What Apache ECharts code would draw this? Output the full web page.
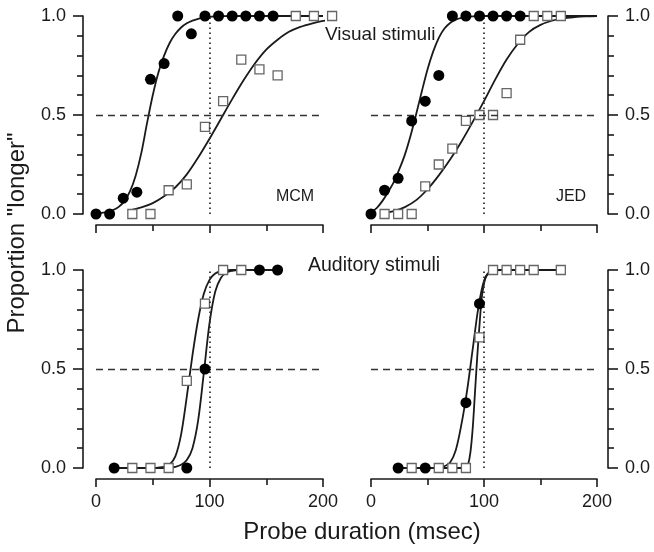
<!DOCTYPE html>
<html>
<head>
<meta charset="utf-8">
<script src="https://cdn.jsdelivr.net/npm/echarts@6/dist/echarts.min.js"></script>
<style>
html,body{margin:0;padding:0;background:#fff;}
#chart{width:654px;height:552px;}
</style>
</head>
<body>
<div id="chart"></div>
<script>
// ---------- DATA ----------
const xTicks = [0, 100, 200];
const yTicks = [0.0, 0.5, 1.0];
const refY = 0.5;   // dashed criterion line
const refX = 100;   // dotted standard duration

// Panel A: MCM, visual stimuli
const mcmVisCircleX = [0, 12, 24, 36, 48, 60, 72, 84, 96, 108, 120, 132, 144, 156];
const mcmVisCircleY = [0, 0, 0.08, 0.11, 0.68, 0.76, 1, 0.91, 1, 1, 1, 1, 1, 1];
const mcmVisSquareX = [32, 48, 64, 80, 96, 112, 128, 144, 160, 176, 192, 208];
const mcmVisSquareY = [0, 0, 0.12, 0.15, 0.44, 0.57, 0.78, 0.73, 0.70, 1, 1, 1];
const mcmVisCircleFitX = [0, 5, 10, 15, 20, 25, 30, 35, 40, 45, 50, 55, 60, 65, 70, 75, 80, 85, 90, 95, 100, 110, 120, 130, 140, 150, 160, 170, 180, 190, 200];
const mcmVisCircleFitY = [0.003, 0.006, 0.011, 0.02, 0.036, 0.065, 0.115, 0.195, 0.31, 0.46, 0.6, 0.715, 0.8, 0.865, 0.91, 0.942, 0.963, 0.977, 0.986, 0.992, 0.996, 0.999, 1, 1, 1, 1, 1, 1, 1, 1, 1];
const mcmVisSquareFitX = [30, 40, 50, 60, 70, 80, 90, 100, 110, 120, 130, 140, 150, 160, 170, 180, 190, 200, 208];
const mcmVisSquareFitY = [0.018, 0.033, 0.055, 0.09, 0.135, 0.2, 0.285, 0.38, 0.48, 0.58, 0.675, 0.76, 0.83, 0.88, 0.92, 0.945, 0.962, 0.975, 0.982];

// Panel B: JED, visual stimuli
const jedVisCircleX = [0, 12, 24, 36, 48, 60, 72, 84, 96, 108, 120, 132];
const jedVisCircleY = [0, 0.12, 0.18, 0.47, 0.57, 0.70, 1, 1, 1, 1, 1, 1];
const jedVisSquareX = [12, 24, 36, 48, 60, 72, 84, 96, 108, 120, 132, 144, 156, 168];
const jedVisSquareY = [0, 0, 0, 0.14, 0.25, 0.33, 0.47, 0.50, 0.50, 0.61, 0.88, 1, 1, 1];
const jedVisCircleFitX = [0, 5, 10, 15, 20, 25, 30, 35, 40, 45, 50, 55, 60, 65, 70, 75, 80, 85, 90, 100, 110, 120, 130, 140, 150, 160, 170, 180, 190, 200];
const jedVisCircleFitY = [0.01, 0.03, 0.065, 0.11, 0.16, 0.225, 0.30, 0.395, 0.505, 0.62, 0.73, 0.82, 0.89, 0.937, 0.965, 0.981, 0.99, 0.995, 0.998, 1, 1, 1, 1, 1, 1, 1, 1, 1, 1, 1];
const jedVisSquareFitX = [10, 20, 30, 40, 50, 60, 70, 80, 90, 100, 110, 120, 130, 140, 150, 160, 170, 180, 190, 200];
const jedVisSquareFitY = [0.004, 0.015, 0.035, 0.07, 0.125, 0.195, 0.275, 0.365, 0.465, 0.57, 0.68, 0.78, 0.86, 0.92, 0.955, 0.976, 0.988, 0.994, 0.998, 1];

// Panel C: MCM, auditory stimuli
const mcmAudCircleX = [16, 80, 96, 144, 160];
const mcmAudCircleY = [0, 0, 0.5, 1, 1];
const mcmAudSquareX = [32, 48, 64, 80, 96, 112, 128];
const mcmAudSquareY = [0, 0, 0, 0.44, 0.83, 1, 1];
const mcmAudCircleFitX = [16, 60, 65, 70, 75, 80, 85, 90, 95, 100, 105, 110, 115, 120, 125, 160];
const mcmAudCircleFitY = [0, 0, 0.002, 0.006, 0.016, 0.04, 0.1, 0.24, 0.48, 0.73, 0.89, 0.96, 0.987, 0.996, 1, 1];
const mcmAudSquareFitX = [16, 50, 55, 60, 65, 70, 75, 80, 85, 90, 95, 100, 105, 110, 115, 120, 160];
const mcmAudSquareFitY = [0, 0, 0.002, 0.006, 0.018, 0.06, 0.17, 0.36, 0.57, 0.75, 0.88, 0.95, 0.982, 0.994, 0.999, 1, 1];

// Panel D: JED, auditory stimuli
const jedAudCircleX = [24, 48, 84, 96];
const jedAudCircleY = [0, 0, 0.33, 0.83];
const jedAudSquareX = [36, 60, 72, 84, 96, 108, 120, 132, 144, 168];
const jedAudSquareY = [0, 0, 0, 0, 0.66, 1, 1, 1, 1, 1];
const jedAudCircleFitX = [24, 50, 55, 60, 65, 70, 75, 80, 85, 90, 95, 100, 105, 110, 115, 168];
const jedAudCircleFitY = [0, 0, 0.001, 0.003, 0.009, 0.028, 0.09, 0.22, 0.39, 0.6, 0.81, 0.945, 0.99, 0.998, 1, 1];
const jedAudSquareFitX = [24, 80, 82, 84, 86, 88, 90, 92, 94, 96, 98, 100, 102, 104, 106, 108, 110, 168];
const jedAudSquareFitY = [0, 0, 0.001, 0.004, 0.02, 0.08, 0.2, 0.38, 0.56, 0.72, 0.86, 0.93, 0.97, 0.985, 0.994, 0.998, 1, 1];

// ---------- CHART ----------
const FONT = "'Liberation Sans', Arial, sans-serif";
const INK = '#1a1a1a';
const zip = (xs, ys) => xs.map((x, i) => [x, ys[i]]);

const panels = [
  { circles: zip(mcmVisCircleX, mcmVisCircleY), squares: zip(mcmVisSquareX, mcmVisSquareY),
    cFit: zip(mcmVisCircleFitX, mcmVisCircleFitY), sFit: zip(mcmVisSquareFitX, mcmVisSquareFitY) },
  { circles: zip(jedVisCircleX, jedVisCircleY), squares: zip(jedVisSquareX, jedVisSquareY),
    cFit: zip(jedVisCircleFitX, jedVisCircleFitY), sFit: zip(jedVisSquareFitX, jedVisSquareFitY) },
  { circles: zip(mcmAudCircleX, mcmAudCircleY), squares: zip(mcmAudSquareX, mcmAudSquareY),
    cFit: zip(mcmAudCircleFitX, mcmAudCircleFitY), sFit: zip(mcmAudSquareFitX, mcmAudSquareFitY) },
  { circles: zip(jedAudCircleX, jedAudCircleY), squares: zip(jedAudSquareX, jedAudSquareY),
    cFit: zip(jedAudCircleFitX, jedAudCircleFitY), sFit: zip(jedAudSquareFitX, jedAudSquareFitY) }
];

const grids = [
  { left: 96, top: 16, width: 227, height: 198 },
  { left: 371, top: 16, width: 226, height: 198 },
  { left: 96, top: 270, width: 227, height: 198 },
  { left: 371, top: 270, width: 226, height: 198 }
];

const xAxes = grids.map((g, i) => ({
  type: 'value', gridIndex: i, min: xTicks[0], max: xTicks[xTicks.length - 1],
  interval: xTicks[1] - xTicks[0], offset: 11,
  axisLine: { show: true, onZero: false, lineStyle: { color: INK, width: 1.6 } },
  axisTick: { show: true, length: 8, lineStyle: { color: INK, width: 1.6 } },
  minorTick: { show: true, splitNumber: 2, length: 6, lineStyle: { color: INK, width: 1.6 } },
  splitLine: { show: false },
  axisLabel: { show: i >= 2, color: INK, fontFamily: FONT, fontSize: 18, margin: 14 }
}));

const yAxes = grids.map((g, i) => ({
  type: 'value', gridIndex: i, min: yTicks[0], max: yTicks[yTicks.length - 1],
  interval: yTicks[1] - yTicks[0], position: (i % 2 === 0) ? 'left' : 'right',
  offset: (i % 2 === 0) ? 13 : 11,
  axisLine: { show: true, onZero: false, lineStyle: { color: INK, width: 1.6 } },
  axisTick: { show: true, length: 10, lineStyle: { color: INK, width: 1.6 } },
  minorTick: { show: true, splitNumber: 5, length: 6, lineStyle: { color: INK, width: 1.6 } },
  splitLine: { show: false },
  axisLabel: { show: true, color: INK, fontFamily: FONT, fontSize: 18, margin: 17,
               formatter: v => v.toFixed(1) }
}));

const series = [];
panels.forEach((p, i) => {
  series.push({
    type: 'line', xAxisIndex: i, yAxisIndex: i, data: p.cFit, showSymbol: false, symbol: 'none',
    smooth: 0.3, clip: false, z: 3,
    lineStyle: { color: INK, width: 1.8 },
    markLine: {
      silent: true, symbol: 'none', label: { show: false }, animation: false,
      data: [
        { yAxis: refY, lineStyle: { type: [7, 5], color: '#333', width: 1.4 } },
        { xAxis: refX, lineStyle: { type: [1.6, 3.4], color: '#333', width: 1.8 } }
      ]
    }
  });
  series.push({
    type: 'line', xAxisIndex: i, yAxisIndex: i, data: p.sFit, showSymbol: false, symbol: 'none',
    smooth: 0.3, clip: false, z: 3,
    lineStyle: { color: INK, width: 1.8 }
  });
  series.push({
    type: 'scatter', xAxisIndex: i, yAxisIndex: i, data: p.squares, symbol: 'rect', symbolSize: 9,
    clip: false, z: 4,
    itemStyle: { color: '#fff', borderColor: '#666', borderWidth: 1.3, opacity: 1 }
  });
  series.push({
    type: 'scatter', xAxisIndex: i, yAxisIndex: i, data: p.circles, symbol: 'circle', symbolSize: 11,
    clip: false, z: 5,
    itemStyle: { color: '#000', opacity: 1 }
  });
});

const txt = (text, x, y, size, align, extra) => Object.assign({
  type: 'text', x: x, y: y, silent: true,
  style: { text: text, fill: INK, font: size + 'px ' + FONT, align: align, verticalAlign: 'middle' }
}, extra || {});

const option = {
  animation: false,
  backgroundColor: '#fff',
  grid: grids,
  xAxis: xAxes,
  yAxis: yAxes,
  series: series,
  graphic: [
    txt('Visual stimuli', 325, 35, 19, 'left'),
    txt('Auditory stimuli', 308, 266, 19.5, 'left'),
    txt('MCM', 295, 197, 16, 'center'),
    txt('JED', 571, 197, 16, 'center'),
    txt('Probe duration (msec)', 362, 532, 24, 'center'),
    txt('Proportion "longer"', 17, 233, 24, 'center', { rotation: Math.PI / 2 })
  ]
};

const chart = echarts.init(document.getElementById('chart'), null, { renderer: 'canvas' });
chart.setOption(option);
</script>
</body>
</html>
